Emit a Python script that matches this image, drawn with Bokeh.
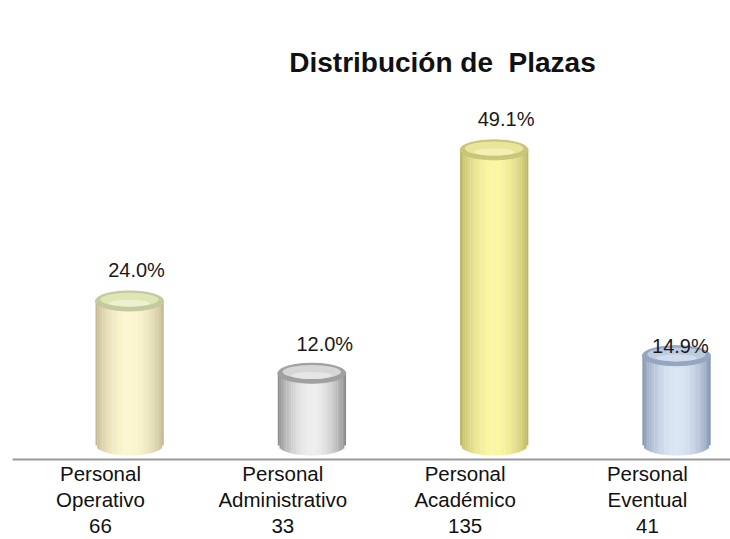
import numpy as np
from bokeh.plotting import figure
from bokeh.models import Range1d, Label
from bokeh.embed import file_html
from bokeh.resources import INLINE
from bokeh.core.properties import value

# --- data -------------------------------------------------------------
roles = ["Operativo", "Administrativo", "Académico", "Eventual"]
counts = [66, 33, 135, 41]
total = sum(counts)
percents = [c / total * 100 for c in counts]

# --- styling ----------------------------------------------------------
edge_rgb = [(196, 186, 146), (138, 138, 138), (186, 182, 98), (132, 150, 178)]
mid_rgb = [(253, 247, 208), (238, 238, 238), (252, 247, 162), (218, 230, 244)]
top_rim = ["#c4c9a0", "#a0a0a0", "#c9c67a", "#95a6c0"]
top_fill = ["#dfe6b4", "#d6d6d6", "#e9e69a", "#bccbe0"]
top_hi = ["#eef1cf", "#e6e6e6", "#f3f0b6", "#d0dcec"]
pct_dx_px = [7, 13, 12, 4]
pct_dy_px = [31, 29, 31, 10]

W, H = 730, 539
PX_X = 182.3          # pixels per category step
PX_Y = 2.19           # pixels per count unit
BASE_PX = 445         # baseline pixel row (from top)
X0_PX = 129           # pixel column of first category

x_start = -X0_PX / PX_X
x_end = (W - X0_PX) / PX_X
y_end = BASE_PX / PX_Y
y_start = -(H - BASE_PX) / PX_Y

p = figure(width=W, height=H, x_range=Range1d(x_start, x_end),
           y_range=Range1d(y_start, y_end), min_border=0,
           toolbar_location=None, output_backend="svg")
p.axis.visible = False
p.grid.visible = False
p.outline_line_color = None
p.background_fill_color = "white"

xs = np.arange(len(counts), dtype=float)
bw = 68 / PX_X                 # cylinder width in data units
eh = 20 / PX_Y                 # ellipse height in data units

# baseline rule
p.segment(x0=[(12 - X0_PX) / PX_X], y0=[-14 / PX_Y],
          x1=[x_end], y1=[-14 / PX_Y], line_color="#9a9a9a", line_width=2)

# cylinder bodies built from thin shaded strips
N = 40
t = np.linspace(-1, 1, N)
shade = np.cos(t * np.pi / 2) ** 0.7
sw = bw / N
for i, c in enumerate(counts):
    e = np.array(edge_rgb[i], dtype=float)
    m = np.array(mid_rgb[i], dtype=float)
    cols = ["#%02x%02x%02x" % tuple(int(v) for v in (e + (m - e) * s)) for s in shade]
    left = xs[i] - bw / 2 + np.arange(N) * sw
    right = left + sw * 1.15
    bottom = -(eh / 2) * np.sqrt(np.clip(1 - t ** 2, 0, 1))
    top = np.full(N, float(c))
    p.quad(left=left, right=right, bottom=bottom, top=top,
           fill_color=cols, line_color=None)

# cylinder tops
p.ellipse(x=xs, y=counts, width=bw, height=eh, fill_color=top_rim,
          line_color=top_rim, line_width=1)
p.ellipse(x=xs, y=[c + 0.6 for c in counts], width=bw * 0.86, height=eh * 0.7,
          fill_color=top_fill, line_color=None)
p.ellipse(x=xs, y=[c - 1.0 for c in counts], width=bw * 0.6, height=eh * 0.35,
          fill_color=top_hi, line_color=None)

# percentage labels
p.text(x=[xs[i] + pct_dx_px[i] / PX_X for i in range(len(counts))],
       y=[counts[i] + pct_dy_px[i] / PX_Y for i in range(len(counts))],
       text=["%.1f%%" % v for v in percents],
       text_font=value("Liberation Sans"), text_font_size="20px",
       text_color="#1a1a1a", text_align="center", text_baseline="middle")

# category labels under the baseline
lab_x = xs - 29 / PX_X
rows = [["Personal"] * len(roles), roles, [str(c) for c in counts]]
for k, row in enumerate(rows):
    py = 473 + 26 * k
    p.text(x=lab_x, y=[(BASE_PX - py) / PX_Y] * len(roles), text=row,
           text_font=value("Liberation Sans"), text_font_size="20.5px",
           text_color="#111111", text_align="center", text_baseline="middle")

# chart title (non-breaking space keeps the double gap)
p.add_layout(Label(x=442, y=H - 62, x_units="screen", y_units="screen",
                   text="Distribución de\u00a0 Plazas", text_align="center",
                   text_baseline="middle", text_font="Liberation Sans",
                   text_font_style="bold", text_font_size="28px",
                   text_color="#111111"))

open("out.html", "w").write(file_html(p, INLINE))
